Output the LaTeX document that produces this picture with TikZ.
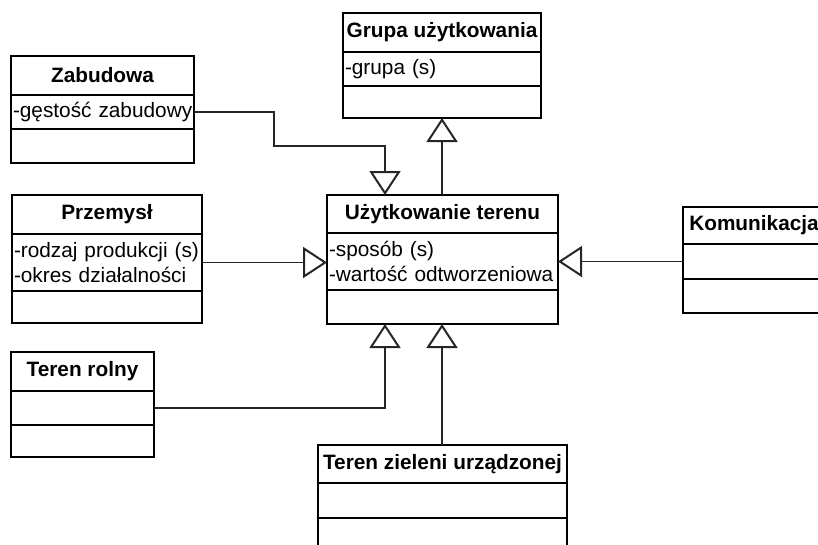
\documentclass[tikz,border=0pt]{standalone}
\usepackage{fontspec}
\setmainfont{Liberation Sans}
\usetikzlibrary{arrows.meta}
\newcommand{\hdrfont}{\bfseries\fontsize{20.8}{24}\selectfont}
\newcommand{\attrfont}{\fontsize{20.8}{24.5}\selectfont}
\tikzset{
  cls/.style={draw, line width=2pt, inner sep=0pt, outer sep=0pt, anchor=north west},
  hdr/.style={cls, font=\hdrfont},
  row/.style={cls, font=\attrfont, align=left, inner xsep=2pt},
  conn/.style={draw=black!85, line width=1.1pt},
  gen/.style={conn, -{Triangle[open, length=24pt, width=31pt, line width=2pt]}}
}
\begin{document}
\begin{tikzpicture}[x=1pt, y=-1pt]
\useasboundingbox (0,0) rectangle (818,544);
\clip (0,0) rectangle (818,544);

% Zabudowa
\node[hdr, minimum width=183pt, minimum height=39pt] (zabH) at (11,56) {Zabudowa};
\node[row, text width=179pt, minimum height=34pt] (zabA) at (11,95) {\mbox{-gęstość zabudowy}};
\node[row, text width=179pt, minimum height=34pt] (zabO) at (11,129) {};

% Grupa użytkowania
\node[hdr, minimum width=198pt, minimum height=39pt] (grpH) at (343,13) {Grupa użytkowania};
\node[row, text width=194pt, minimum height=34pt] (grpA) at (343,52) {\mbox{-grupa (s)}};
\node[row, text width=194pt, minimum height=32pt] (grpO) at (343,86) {};

% Użytkowanie terenu
\node[hdr, minimum width=231pt, minimum height=38pt] (uzyH) at (327,195) {Użytkowanie terenu};
\node[row, text width=227pt, minimum height=57pt] (uzyA) at (327,233) {\mbox{-sposób (s)}\\\mbox{-wartość odtworzeniowa}};
\node[row, text width=227pt, minimum height=34pt] (uzyO) at (327,290) {};

% Przemysł
\node[hdr, minimum width=190pt, minimum height=39pt] (przH) at (12,195) {Przemysł};
\node[row, text width=186pt, minimum height=57pt] (przA) at (12,234) {\mbox{-rodzaj produkcji (s)}\\\mbox{-okres działalności}};
\node[row, text width=186pt, minimum height=32pt] (przO) at (12,291) {};

% Komunikacja
\node[hdr, minimum width=142pt, minimum height=37pt] (komH) at (683,207) {Komunikacja};
\node[row, text width=138pt, minimum height=35pt] (komA) at (683,244) {};
\node[row, text width=138pt, minimum height=34pt] (komO) at (683,279) {};

% Teren rolny
\node[hdr, minimum width=143pt, minimum height=39pt] (rolH) at (11,352) {Teren rolny};
\node[row, text width=139pt, minimum height=34pt] (rolA) at (11,391) {};
\node[row, text width=139pt, minimum height=32pt] (rolO) at (11,425) {};

% Teren zieleni urządzonej
\node[hdr, minimum width=249pt, minimum height=38pt] (zieH) at (318,445) {Teren zieleni urządzonej};
\node[row, text width=245pt, minimum height=35pt] (zieA) at (318,483) {};
\node[row, text width=245pt, minimum height=34pt] (zieO) at (318,518) {};

% attachment points on Użytkowanie terenu
\coordinate (uzyTopL) at (385,195);
\coordinate (uzyTopR) at (442,195);
\coordinate (uzyBotL) at (385,324);
\coordinate (uzyBotR) at (442,324);
\coordinate (zabBend) at (274,146);

% generalisation connectors
\draw[gen] (zabA.east) -| (zabBend) -| (uzyTopL);
\draw[gen] (uzyTopR) -- (uzyTopR |- grpO.south);
\draw[gen] (przA.east) -- (przA.east -| uzyA.west);
\draw[gen] (komA.west) -- (komA.west -| uzyA.east);
\draw[gen] (rolA.east) -| (uzyBotL);
\draw[gen] (uzyBotR |- zieH.north) -- (uzyBotR);
\end{tikzpicture}
\end{document}
